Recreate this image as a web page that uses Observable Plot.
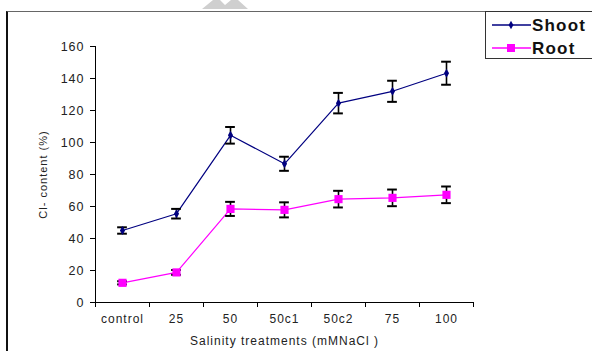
<!DOCTYPE html>
<html>
<head>
<meta charset="utf-8">
<script src="https://cdn.jsdelivr.net/npm/d3@7"></script>
<script src="https://cdn.jsdelivr.net/npm/@observablehq/plot@0.6"></script>
<style>
  html, body { margin: 0; padding: 0; background: #fff; }
  #wrap { position: relative; width: 592px; height: 351px; overflow: hidden; background: #fff;
          font-family: "Liberation Sans", Arial, sans-serif; }
  #frame { position: absolute; left: 6px; top: 11px; width: 700px; height: 500px;
           border-left: 2px solid #111; border-top: 1px solid #666; box-sizing: border-box; }
  #plot { position: absolute; left: 0; top: 0; }
  #legend { position: absolute; left: 485px; top: 11px; width: 120px; height: 48px;
            border: 1.5px solid #333; background: #fff; box-sizing: border-box; }
  #wm { position: absolute; left: 200px; top: 0; width: 50px; height: 9px; background: #cfcfcf;
        clip-path: polygon(4% 100%, 26% 0%, 40% 0%, 50% 55%, 62% 0%, 76% 0%, 96% 100%); }
</style>
</head>
<body>
<div id="wrap">
  <div id="wm"></div>
  <div id="frame"></div>
  <div id="plot"></div>
  <div id="legend"></div>
</div>
<script>
// ---- data ----
const categories = ["control", "25", "50", "50c1", "50c2", "75", "100"];
const shootMean = [45, 55.5, 104.5, 86.7, 124.6, 132, 143.3];
const shootErr  = [2, 3, 5.2, 4.4, 6.4, 6.6, 7.2];
const rootMean  = [12.3, 18.8, 58.5, 57.9, 64.6, 65.4, 67.3];
const rootErr   = [1, 1.5, 4.4, 4.7, 5.2, 5.2, 5.2];
const yTicks = [0, 20, 40, 60, 80, 100, 120, 140, 160];
const seriesNames = ["Shoot", "Root"];
const seriesColors = ["#000080", "#ff00ff"];
const yTitle = "Cl- content (%)";
const xTitle = "Salinity treatments (mMNaCl )";

const rows = [];
categories.forEach((c, i) => {
  rows.push({cat: c, x: i + 0.5, series: "Shoot", mean: shootMean[i], err: shootErr[i]});
  rows.push({cat: c, x: i + 0.5, series: "Root", mean: rootMean[i], err: rootErr[i]});
});
const shoot = rows.filter(d => d.series === "Shoot");
const root = rows.filter(d => d.series === "Root");
const boundaries = d3.range(categories.length + 1);
const centers = categories.map((c, i) => i + 0.5);
const capW = 0.09;

const chart = Plot.plot({
  width: 592,
  height: 351,
  marginLeft: 95,
  marginRight: 119,
  marginTop: 46,
  marginBottom: 49,
  style: {fontFamily: "'Liberation Sans', Arial, sans-serif", fontSize: "12px", color: "#222", background: "transparent", letterSpacing: "1px"},
  x: {type: "linear", domain: [0, categories.length]},
  y: {domain: [0, 160]},
  color: {domain: seriesNames, range: seriesColors},
  marks: [
    Plot.axisY({ticks: yTicks, tickSize: 5, tickPadding: 6, label: null, stroke: "#000", fontSize: 12.5}),
    Plot.axisX({ticks: boundaries, tickSize: 5, tickFormat: () => "", label: null, stroke: "#000"}),
    Plot.axisX({ticks: centers, tickSize: 0, tickPadding: 12, tickFormat: d => categories[Math.round(d - 0.5)], label: null, fontSize: 12}),
    Plot.ruleX([0], {y1: 0, y2: 160, stroke: "#000", strokeWidth: 1}),
    Plot.ruleY([0], {x1: 0, x2: categories.length, stroke: "#000", strokeWidth: 1}),
    Plot.line(shoot, {x: "x", y: "mean", stroke: "series", strokeWidth: 1.2}),
    Plot.line(root, {x: "x", y: "mean", stroke: "series", strokeWidth: 1.2}),
    Plot.ruleX(rows, {x: "x", y1: d => d.mean - d.err, y2: d => d.mean + d.err, stroke: "#000", strokeWidth: 1.6}),
    Plot.ruleY(rows, {y: d => d.mean + d.err, x1: d => d.x - capW, x2: d => d.x + capW, stroke: "#000", strokeWidth: 2}),
    Plot.ruleY(rows, {y: d => d.mean - d.err, x1: d => d.x - capW, x2: d => d.x + capW, stroke: "#000", strokeWidth: 2}),
    Plot.dot(shoot, {x: "x", y: "mean", fill: "series", symbol: "diamond", r: 2.7, stroke: "none"}),
    Plot.dot(root, {x: "x", y: "mean", fill: "series", symbol: "square", r: 4.6, stroke: "none"}),
    Plot.text([yTitle], {frameAnchor: "left", dx: -52, rotate: -90, fontSize: 11, fill: "#222", textAnchor: "middle", lineAnchor: "middle"}),
    Plot.text([xTitle], {frameAnchor: "bottom", dy: 39, fontSize: 12, fill: "#222", textAnchor: "middle", lineAnchor: "middle"})
  ]
});
document.getElementById("plot").appendChild(chart);

// ---- legend ----
const lg = d3.select("#legend").append("svg").attr("width", 120).attr("height", 46);
seriesNames.forEach((name, i) => {
  const y = i === 0 ? 13 : 36;
  const g = lg.append("g");
  g.append("line").attr("x1", 6).attr("x2", 45).attr("y1", y).attr("y2", y)
    .attr("stroke", seriesColors[i]).attr("stroke-width", 1.5);
  if (i === 0) {
    g.append("path").attr("d", d3.symbol(d3.symbolDiamond, 20)()).attr("transform", `translate(25,${y})`).attr("fill", seriesColors[i]);
  } else {
    g.append("rect").attr("x", 21).attr("y", y - 4).attr("width", 8).attr("height", 8).attr("fill", seriesColors[i]);
  }
  g.append("text").attr("x", 46).attr("y", y).attr("dy", "0.36em").text(name)
    .attr("font-family", "'Liberation Sans', Arial, sans-serif").attr("font-weight", "bold")
    .attr("font-size", 17).attr("letter-spacing", "1.2px").attr("fill", "#111");
});
</script>
</body>
</html>
